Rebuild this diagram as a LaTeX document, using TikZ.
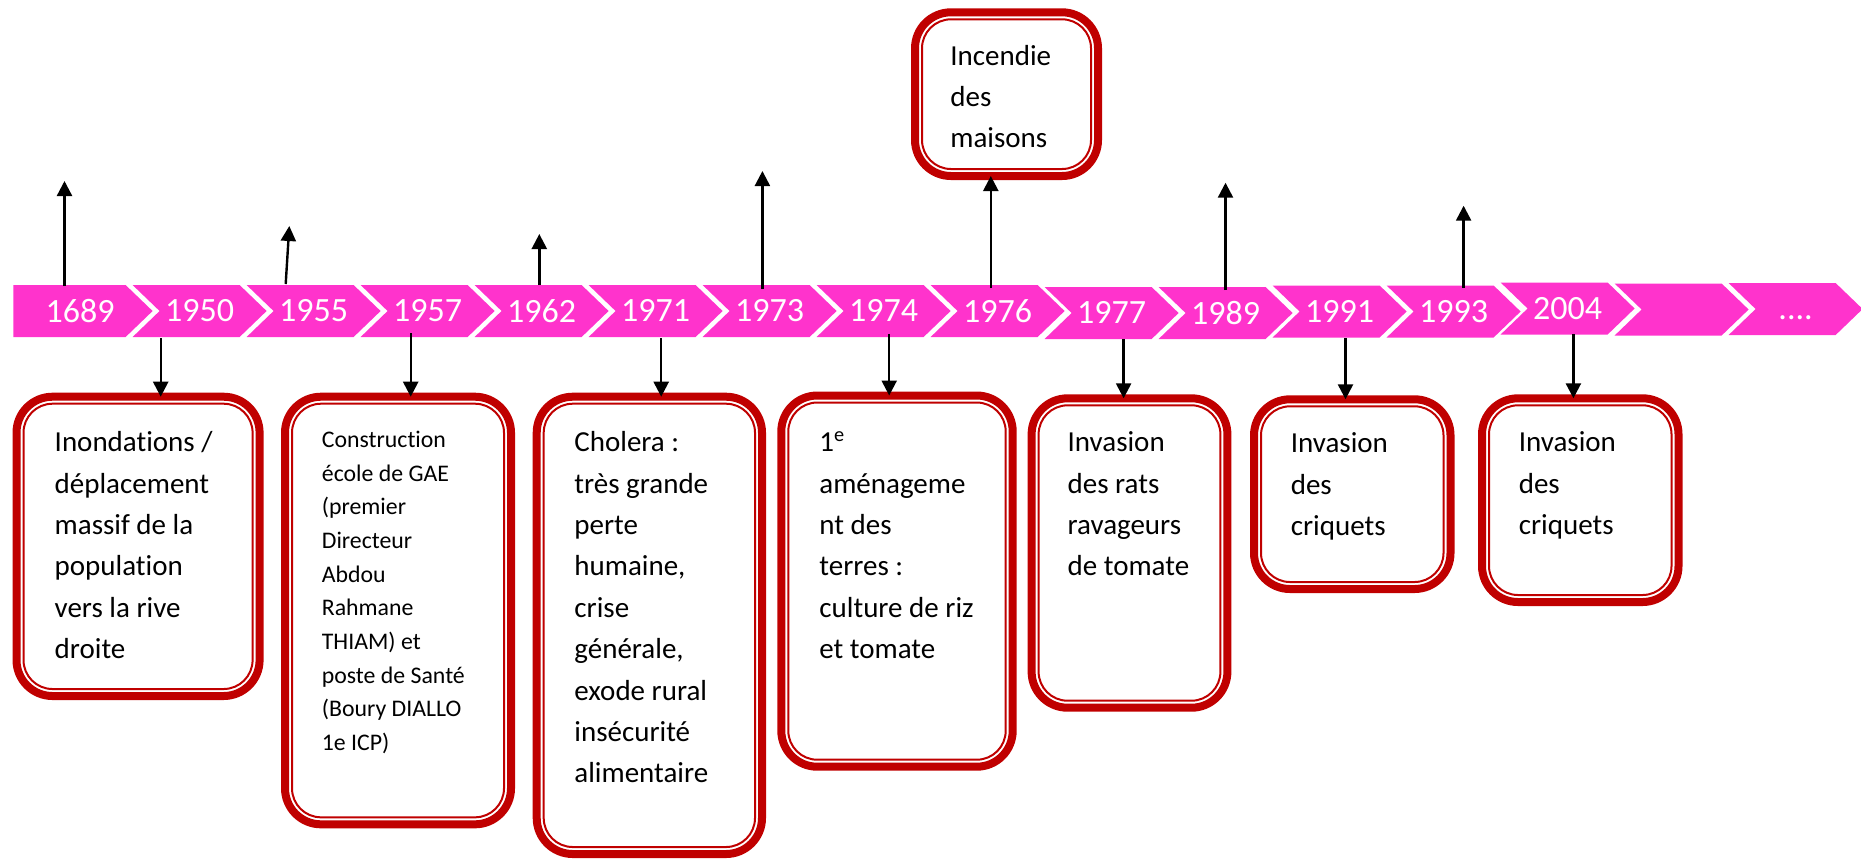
\documentclass[tikz,border=0pt]{standalone}
\usepackage{fontspec}
\setmainfont{Carlito}[Ligatures=NoCommon]
\usetikzlibrary{arrows.meta}
\definecolor{chev}{HTML}{FF33CC}
\definecolor{boxred}{HTML}{C00000}
\newcommand\txtlines[1]{\vtop{\halign{##\hfil\cr#1\crcr}}}
\newcommand\dotslabel{....}
\begin{document}
\begin{tikzpicture}[x=0.5pt,y=-0.5pt,
  yearlbl/.style={text=white,font=\fontsize{17}{20}\selectfont,inner sep=0},
  evbox/.style={draw=boxred,line width=4pt,rounded corners=18pt,outer sep=0,inner sep=0,fill=white},
  innerline/.style={draw=boxred,line width=1pt,rounded corners=14.5pt},
  txtA/.style={anchor=base west,inner sep=0,font=\fontsize{14.5}{20.7}\selectfont},
  txtB/.style={anchor=base west,inner sep=0,font=\fontsize{11.9}{16.85}\selectfont},
  arr/.style={line width=1.2pt,-{Triangle[width=7.5pt,length=7.5pt]}}]
\useasboundingbox (0,0) rectangle (1861,859);

% ---- chevron bar ----
\fill[chev] (13.4,285) -- (125.6,285) -- (152.6,311) -- (125.6,337) -- (13.4,337) -- cycle;
\node[yearlbl] (y1689) at (80,311) {\vphantom{0}1689};
\foreach \k/\lab/\nm/\dy in {1/1950/y1950/0,2/1955/y1955/0,3/1957/y1957/0,4/1962/y1962/0,
  5/1971/y1971/0,6/1973/y1973/0,7/1974/y1974/0,8/1976/y1976/0,9/1977/y1977/2,10/1989/y1989/2,
  11/1991/y1991/0.5,12/1993/y1993/0.5,13/2004/y2004/-2.5,14/{}/yblank/-1.5,15/\dotslabel/ydots/-2}{
  \pgfmathsetmacro\L{18.6+114*\k}
  \fill[chev] (\L,285+\dy) -- ++(107,0) -- ++(27,26) -- ++(-27,26) -- ++(-107,0) -- ++(27,-26) -- cycle;
  \node[yearlbl] (\nm) at (\L+67,311+\dy) {\vphantom{0}\lab};
}

% ---- event boxes ----
\node[evbox,minimum width=91.5pt,minimum height=81.85pt] (b0) at (1006.5,94.15) {};
\node[evbox,minimum width=121.55pt,minimum height=149.65pt] (b1) at (138.05,546.35) {};
\node[evbox,minimum width=113pt,minimum height=213.8pt] (b2) at (398,610.5) {};
\node[evbox,minimum width=112.65pt,minimum height=228.65pt] (b3) at (649.35,625.35) {};
\node[evbox,minimum width=115.7pt,minimum height=185.6pt] (b4) at (897,581.1) {};
\node[evbox,minimum width=97.9pt,minimum height=154.7pt] (b5) at (1129.5,553) {};
\node[evbox,minimum width=98.25pt,minimum height=94.85pt] (b6) at (1352.25,494.15) {};
\node[evbox,minimum width=98.25pt,minimum height=101.85pt] (b7) at (1580.25,500.15) {};
\foreach \b in {b0,b1,b2,b3,b4,b5,b6,b7}{
  \draw[innerline] ([xshift=3.5pt,yshift=-3.5pt]\b.north west) rectangle ([xshift=-3.5pt,yshift=3.5pt]\b.south east);
}

% ---- texts ----
\node[txtA] (t0) at (950,65) {\txtlines{Incendie\cr des\cr maisons}};
\node[txtA] (t1) at (54.3,451.7) {\txtlines{Inondations /\cr déplacement\cr massif de la\cr population\cr vers la rive\cr droite}};
\node[txtB] (t2) at (321.5,447.3) {\txtlines{Construction\cr école de GAE\cr (premier\cr Directeur\cr Abdou\cr Rahmane\cr THIAM) et\cr poste de Santé\cr (Boury DIALLO\cr 1e ICP)}};
\node[txtA] (t3) at (574,451.7) {\txtlines{Cholera :\cr très grande\cr perte\cr humaine,\cr crise\cr générale,\cr exode rural\cr insécurité\cr alimentaire}};
\node[txtA] (t4) at (819,451.7) {\txtlines{1\textsuperscript{e}\cr aménageme\cr nt des\cr terres :\cr culture de riz\cr et tomate}};
\node[txtA] (t5) at (1067.2,451.7) {\txtlines{Invasion\cr des rats\cr ravageurs\cr de tomate}};
\node[txtA] (t6) at (1290.4,452.7) {\txtlines{Invasion\cr des\cr criquets}};
\node[txtA] (t7) at (1518.4,451.7) {\txtlines{Invasion\cr des\cr criquets}};

% ---- up arrows ----
\coordinate (u1689) at (64.5,286);   \coordinate (e1689) at (64.5,181);
\coordinate (u1955) at (285.7,284);  \coordinate (e1955) at (289.3,226);
\coordinate (u1962) at (539.3,285);  \coordinate (e1962) at (539.3,234);
\coordinate (u1973) at (762.4,289);  \coordinate (e1973) at (762.4,171);
\coordinate (u1976) at (990.8,288);
\coordinate (u1989) at (1225.5,290); \coordinate (e1989) at (1225.5,182.7);
\coordinate (u1993) at (1463.6,288); \coordinate (e1993) at (1463.6,205.7);
\draw[arr] (u1689) -- (e1689);
\draw[arr] (u1955) -- (e1955);
\draw[arr] (u1962) -- (e1962);
\draw[arr] (u1973) -- (e1973);
\draw[arr] (u1976) -- (u1976 |- b0.south);
\draw[arr] (u1989) -- (e1989);
\draw[arr] (u1993) -- (e1993);

% ---- down arrows ----
\coordinate (d1950) at (160.7,338);
\coordinate (d1957) at (410.7,333);
\coordinate (d1971) at (661.2,338);
\coordinate (d1974) at (889.2,334);
\coordinate (d1977) at (1123.6,339);
\coordinate (d1991) at (1345.5,338);
\coordinate (d2004) at (1573.4,334);
\draw[arr] (d1950) -- (d1950 |- b1.north);
\draw[arr] (d1957) -- (d1957 |- b2.north);
\draw[arr] (d1971) -- (d1971 |- b3.north);
\draw[arr] (d1974) -- (d1974 |- b4.north);
\draw[arr] (d1977) -- (d1977 |- b5.north);
\draw[arr] (d1991) -- (d1991 |- b6.north);
\draw[arr] (d2004) -- (d2004 |- b7.north);
\end{tikzpicture}
\end{document}
